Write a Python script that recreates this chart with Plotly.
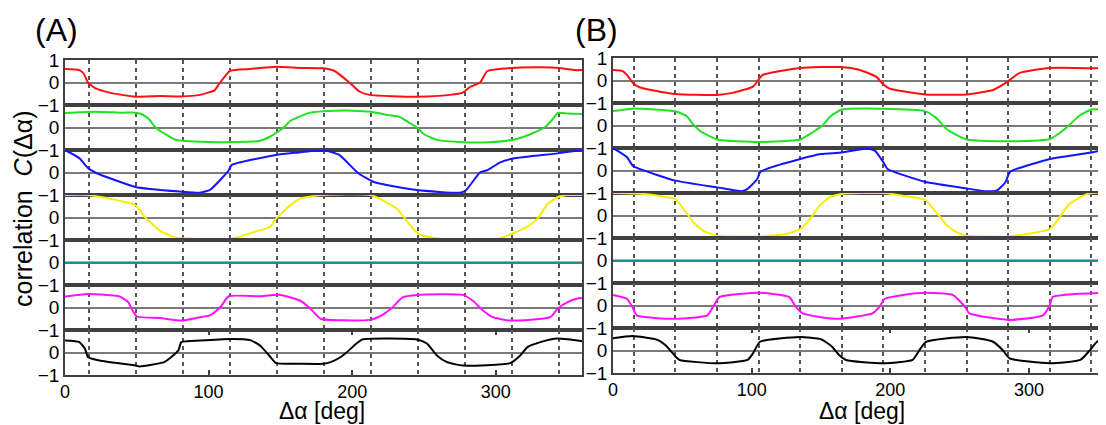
import plotly.graph_objects as go

# ---------------- data (Δα in degrees, correlation values) ----------------
a_red_x = [0, 10, 13, 16, 21, 31, 49, 66, 81, 94, 101, 104, 108, 115, 129, 147, 164, 180, 188, 198, 205, 212, 245, 268, 277, 282, 289, 294, 311, 331, 344, 355, 360]
a_red_y = [0.6, 0.55, 0.4, 0.0, -0.25, -0.45, -0.63, -0.6, -0.62, -0.55, -0.42, -0.36, 0.0, 0.52, 0.6, 0.7, 0.65, 0.63, 0.5, 0.0, -0.4, -0.55, -0.63, -0.55, -0.45, -0.2, 0.0, 0.5, 0.65, 0.68, 0.65, 0.55, 0.55]

a_green_x = [0, 20, 40, 49, 53, 58, 63, 70, 77, 90, 110, 135, 143, 148, 153, 157, 162, 170, 180, 200, 213, 225, 233, 240, 245, 250, 259, 277, 295, 311, 320, 334, 340, 343, 350, 360]
a_green_y = [0.64, 0.7, 0.66, 0.66, 0.6, 0.4, 0.0, -0.3, -0.55, -0.62, -0.65, -0.6, -0.4, -0.2, 0.05, 0.3, 0.45, 0.65, 0.72, 0.75, 0.7, 0.55, 0.47, 0.2, 0.0, -0.3, -0.55, -0.65, -0.65, -0.56, -0.4, 0.0, 0.4, 0.65, 0.62, 0.6]

a_blue_x = [0, 10, 16, 21, 49, 81, 94, 101, 110, 114, 116, 147, 164, 173, 182, 191, 204, 215, 245, 275, 279, 289, 294, 303, 312, 343, 360]
a_blue_y = [1.0, 0.64, 0.2, 0.0, -0.64, -0.85, -0.9, -0.77, -0.2, 0.1, 0.33, 0.78, 0.9, 0.97, 0.97, 0.78, -0.02, -0.42, -0.78, -0.9, -0.8, 0.0, 0.1, 0.45, 0.62, 0.85, 1.0]

a_yellow_x = [0, 16, 24, 38, 49, 56, 66, 77, 90, 115, 129, 143, 147, 157, 164, 173, 180, 213, 231, 238, 245, 249, 261, 301, 312, 322, 329, 336, 343, 350, 360]
a_yellow_y = [1.0, 1.0, 0.92, 0.74, 0.55, 0.0, -0.58, -0.9, -0.95, -0.95, -0.7, -0.4, -0.05, 0.55, 0.85, 0.95, 1.0, 1.0, 0.4, -0.15, -0.67, -0.8, -0.95, -0.95, -0.7, -0.4, -0.05, 0.6, 0.9, 1.0, 1.0]

a_teal_x = [0, 60, 120, 180, 240, 300, 360]
a_teal_y = [0.0, 0.0, 0.0, 0.0, 0.0, 0.0, 0.0]

a_magenta_x = [0, 16, 38, 44, 47, 50, 66, 81, 94, 101, 108, 114, 135, 150, 164, 171, 178, 212, 219, 228, 235, 245, 277, 284, 291, 298, 310, 338, 343, 350, 357, 360]
a_magenta_y = [0.49, 0.6, 0.49, 0.24, -0.13, -0.4, -0.47, -0.58, -0.43, -0.35, 0.0, 0.5, 0.5, 0.56, 0.3, -0.06, -0.5, -0.55, -0.4, 0.0, 0.45, 0.56, 0.56, 0.3, -0.13, -0.43, -0.58, -0.43, -0.05, 0.24, 0.4, 0.42]

a_black_x = [0, 10, 14, 16, 24, 49, 52, 69, 74, 79, 81, 94, 116, 129, 136, 143, 147, 164, 180, 185, 192, 196, 203, 207, 245, 252, 259, 266, 277, 310, 317, 322, 331, 343, 357, 360]
a_black_y = [0.53, 0.46, 0.16, -0.2, -0.36, -0.58, -0.62, -0.43, -0.2, 0.1, 0.46, 0.53, 0.6, 0.55, 0.3, -0.2, -0.47, -0.5, -0.5, -0.43, -0.2, 0.0, 0.4, 0.58, 0.58, 0.4, -0.13, -0.43, -0.58, -0.47, -0.13, 0.24, 0.46, 0.62, 0.53, 0.5]

b_red_x = [0, 7, 10, 14.4, 19, 45, 75, 86, 101, 104.5, 108, 135, 164, 178, 190, 194, 199, 225, 255, 274, 284, 293, 315, 355.5]
b_red_y = [0.47, 0.42, 0.25, -0.11, -0.3, -0.6, -0.64, -0.55, -0.27, 0.0, 0.25, 0.56, 0.6, 0.47, 0.16, -0.11, -0.35, -0.62, -0.62, -0.42, -0.07, 0.33, 0.56, 0.53]

b_green_x = [0, 14, 45, 53, 58, 63, 75, 106, 135, 144, 151, 157, 165, 195, 225, 233, 241, 255, 286, 315, 327, 336, 345, 355.5]
b_green_y = [0.64, 0.75, 0.63, 0.42, 0.04, -0.25, -0.62, -0.73, -0.62, -0.3, 0.0, 0.42, 0.71, 0.75, 0.64, 0.34, -0.18, -0.62, -0.7, -0.6, -0.1, 0.42, 0.71, 0.71]

b_blue_x = [0, 10, 14.4, 19, 45, 75, 93, 97, 104, 106, 111, 135, 150, 165, 183, 189, 195, 198, 225, 255, 269, 277, 283, 286, 291, 315, 345, 355.5]
b_blue_y = [1.0, 0.6, 0.2, 0.07, -0.45, -0.75, -0.92, -0.82, -0.38, -0.08, 0.07, 0.51, 0.73, 0.8, 0.98, 0.87, 0.36, 0.07, -0.5, -0.8, -0.92, -0.88, -0.52, -0.08, 0.07, 0.51, 0.8, 0.96]

b_yellow_x = [0, 22, 45, 50, 58, 65, 75, 106, 125, 135, 142, 149, 156, 165, 195, 209, 225, 234, 241, 248, 255, 285, 315, 322, 329, 339, 345, 355.5]
b_yellow_y = [1.0, 0.96, 0.73, 0.36, -0.3, -0.67, -0.9, -0.93, -0.82, -0.6, -0.16, 0.44, 0.8, 0.96, 1.0, 0.88, 0.7, 0.07, -0.45, -0.75, -0.9, -0.93, -0.6, -0.08, 0.51, 0.88, 1.0, 1.0]

b_teal_x = [0, 60, 120, 180, 240, 300, 355.5]
b_teal_y = [0.0, 0.0, 0.0, 0.0, 0.0, 0.0, 0.0]

b_magenta_x = [0, 10, 14, 17, 45, 68, 72, 77, 106, 127, 132, 137, 150, 164, 187, 192, 196, 209, 226, 245, 254, 257, 285, 310, 315, 317, 355.5]
b_magenta_y = [0.47, 0.3, -0.07, -0.44, -0.59, -0.44, -0.07, 0.38, 0.57, 0.38, -0.07, -0.35, -0.52, -0.59, -0.35, -0.07, 0.3, 0.47, 0.57, 0.47, -0.07, -0.35, -0.64, -0.44, 0.02, 0.38, 0.57]

b_black_x = [0, 14, 32, 39, 45, 48, 75, 97, 101, 106, 135, 150, 158, 163, 168, 195, 216, 221, 226, 255, 274, 281, 286, 315, 337, 344, 349, 355.5]
b_black_y = [0.54, 0.64, 0.47, 0.17, -0.27, -0.42, -0.57, -0.42, -0.12, 0.39, 0.6, 0.5, 0.17, -0.2, -0.42, -0.57, -0.42, 0.02, 0.39, 0.6, 0.39, 0.02, -0.35, -0.57, -0.42, 0.02, 0.39, 0.54]

colors = ["#ff1010", "#22e022", "#1414ff", "#f4ee00", "#1a8a8a", "#ff10ff", "#000000"]
panel_a = [(a_red_x, a_red_y), (a_green_x, a_green_y), (a_blue_x, a_blue_y), (a_yellow_x, a_yellow_y),
           (a_teal_x, a_teal_y), (a_magenta_x, a_magenta_y), (a_black_x, a_black_y)]
panel_b = [(b_red_x, b_red_y), (b_green_x, b_green_y), (b_blue_x, b_blue_y), (b_yellow_x, b_yellow_y),
           (b_teal_x, b_teal_y), (b_magenta_x, b_magenta_y), (b_black_x, b_black_y)]

x_ticks = [0, 100, 200, 300]

# ---------------- layout geometry ----------------
# The page body has an 8px default margin, so the figure is drawn 8px in and down.
OFF = 8
IMG_W, IMG_H = 1106, 425
W, H = IMG_W - OFF, IMG_H - OFF


def fx(px):
    return (px - OFF) / W


def fy(py):
    return 1 - (py - OFF) / H


FONT = "Liberation Sans, Arial, sans-serif"
LINEC = "#404040"
ROW_H = 45

fig = go.Figure()
layout = {}

panels = [
    dict(data=panel_a, xid="x", xkey="xaxis", x0=65, x1=582, top=60, yoff=0,
         xrange=[0, 360], minor0=360 / 22, minordt=360 / 11),
    dict(data=panel_b, xid="x2", xkey="xaxis2", x0=613, x1=IMG_W, top=58, yoff=7,
         xrange=[0, 355.5], minor0=15, minordt=30),
]

for p in panels:
    bottom_yid = "y%d" % (p["yoff"] + 7)
    for r, ((xs, ys), col) in enumerate(zip(p["data"], colors)):
        n = p["yoff"] + r + 1
        yid = "y" if n == 1 else "y%d" % n
        ykey = "yaxis" if n == 1 else "yaxis%d" % n
        top_px = p["top"] + ROW_H * r
        bot_px = top_px + ROW_H
        tv = [1, 0, -1] if r == 0 else [0, -1]
        tt = ["1", "0", "\u22121"] if r == 0 else ["0", "\u22121"]
        layout[ykey] = dict(
            domain=[fy(bot_px), fy(top_px)], anchor=p["xid"], range=[-1, 1],
            tickmode="array", tickvals=tv, ticktext=tt, ticks="", automargin=False,
            tickfont=dict(family=FONT, size=19, color="black"),
            showgrid=False, zeroline=True, zerolinecolor="#7a7a7a", zerolinewidth=2,
            showline=True, linecolor=LINEC, linewidth=1.5, mirror=True, fixedrange=True,
            layer="below traces",
        )
        fig.add_trace(go.Scatter(x=xs, y=ys, xaxis=p["xid"], yaxis=yid, mode="lines",
                                 line=dict(color=col, width=2, shape="spline", smoothing=0.5),
                                 showlegend=False, hoverinfo="skip", cliponaxis=False))
    layout[p["xkey"]] = dict(
        domain=[fx(p["x0"]), min(1.0, fx(p["x1"]))], anchor=bottom_yid, range=p["xrange"],
        tickmode="array", tickvals=x_ticks, ticktext=[str(v) for v in x_ticks],
        ticks="inside", ticklen=5, tickwidth=1.5, tickcolor=LINEC, automargin=False,
        tickfont=dict(family=FONT, size=18, color="black"),
        showgrid=False, zeroline=False,
        showline=True, linecolor=LINEC, linewidth=1.5, mirror="all",
        minor=dict(tick0=p["minor0"], dtick=p["minordt"], showgrid=True,
                   gridcolor="#555555", gridwidth=1.5, griddash="4px,4px", ticks=""),
        fixedrange=True, layer="below traces",
    )

annotations = [
    dict(text="(A)", x=fx(56), y=fy(30), xref="paper", yref="paper", showarrow=False,
         font=dict(family=FONT, size=32, color="black"), xanchor="center", yanchor="middle"),
    dict(text="(B)", x=fx(596), y=fy(30), xref="paper", yref="paper", showarrow=False,
         font=dict(family=FONT, size=32, color="black"), xanchor="center", yanchor="middle"),
    dict(text="correlation  <i>C</i>(\u0394\u03b1)", x=fx(23), y=fy(209), xref="paper", yref="paper",
         showarrow=False, textangle=-90, font=dict(family=FONT, size=25, color="black"),
         xanchor="center", yanchor="middle"),
    dict(text="\u0394\u03b1 [deg]", x=fx(322), y=fy(411), xref="paper", yref="paper",
         showarrow=False, font=dict(family=FONT, size=23, color="black"),
         xanchor="center", yanchor="middle"),
    dict(text="\u0394\u03b1 [deg]", x=fx(862), y=fy(411), xref="paper", yref="paper",
         showarrow=False, font=dict(family=FONT, size=23, color="black"),
         xanchor="center", yanchor="middle"),
]

fig.update_layout(
    width=W, height=H, margin=dict(l=0, r=0, t=0, b=0, autoexpand=False),
    paper_bgcolor="white", plot_bgcolor="white",
    annotations=annotations, showlegend=False,
    **layout,
)

fig.write_html("out.html", config={"displayModeBar": False})
